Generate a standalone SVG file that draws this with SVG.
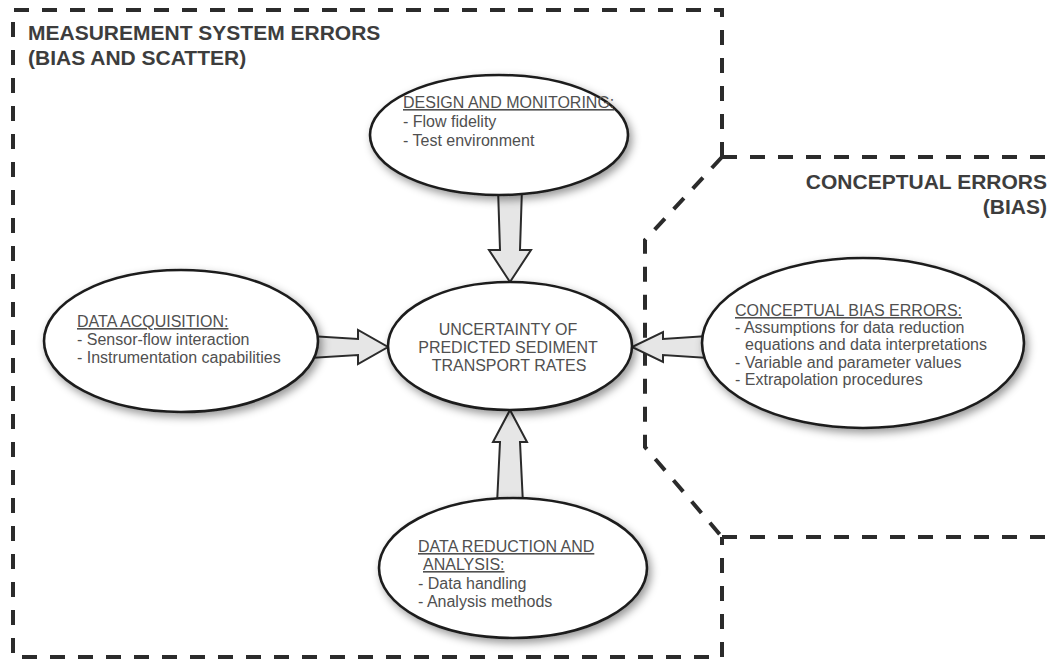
<svg xmlns="http://www.w3.org/2000/svg" width="1055" height="662" viewBox="0 0 1055 662">
<style>
.region{fill:none;stroke:#2b2b2b;stroke-width:4;stroke-dasharray:15 13}
.node{fill:#fff;stroke:#1e1e1e;stroke-width:2.6;filter:url(#shadow)}
.arrow{fill:#e6e6e6;stroke:#2b2b2b;stroke-width:2;stroke-linejoin:miter}
.hdr{font-family:"Liberation Sans",Arial,sans-serif;font-weight:bold;font-size:21px;fill:#3d3d3d}
.txt{font-family:"Liberation Sans",Arial,sans-serif;font-size:16px;fill:#505050}
.u{text-decoration:underline}
</style>
<defs>
<filter id="shadow" x="-20%" y="-20%" width="150%" height="150%">
<feDropShadow dx="3" dy="4" stdDeviation="4" flood-color="#000" flood-opacity="0.4"/>
</filter>
</defs>
<rect width="1055" height="662" fill="#fff"/>

<g id="regions">
<path class="region" d="M722,157 L722,10 L13,10 L13,657 L722,657 L722,537"/>
<path class="region" d="M722,157 L645,240 L645,447 L722,537"/>
<path class="region" d="M722,157 L1055,157"/>
<path class="region" d="M722,537 L1055,537"/>
<text class="hdr" x="28" y="40">MEASUREMENT SYSTEM ERRORS</text>
<text class="hdr" x="28" y="65">(BIAS AND SCATTER)</text>
<text class="hdr" x="1047" y="189" text-anchor="end">CONCEPTUAL ERRORS</text>
<text class="hdr" x="1047" y="214" text-anchor="end">(BIAS)</text>
</g>

<g id="connectors">
<polygon class="arrow" points="498,188 522,188 520,250 531,250 510,282 489,250 500,250"/>
<polygon class="arrow" points="310,336 358,339 358,330 388,347 358,364 358,355 310,358"/>
<polygon class="arrow" points="708,336 663,339 663,332 632,347 663,362 663,355 708,358"/>
<polygon class="arrow" points="497,504 500,442 493,442 510,410 527,442 520,442 523,504"/>
</g>

<g id="design">
<ellipse class="node" cx="499" cy="135" rx="129" ry="60"/>
<text class="txt" x="403" y="108"><tspan class="u">DESIGN AND MONITORING:</tspan></text>
<text class="txt" x="403" y="127">- Flow fidelity</text>
<text class="txt" x="403" y="146">- Test environment</text>
</g>

<g id="acquisition">
<ellipse class="node" cx="181" cy="341" rx="137" ry="71"/>
<text class="txt" x="77" y="327"><tspan class="u">DATA ACQUISITION:</tspan></text>
<text class="txt" x="77" y="345">- Sensor-flow interaction</text>
<text class="txt" x="77" y="363">- Instrumentation capabilities</text>
</g>

<g id="uncertainty">
<ellipse class="node" cx="510" cy="346" rx="122" ry="64"/>
<text class="txt" text-anchor="middle" x="508" y="335">UNCERTAINTY OF</text>
<text class="txt" text-anchor="middle" x="508" y="353">PREDICTED SEDIMENT</text>
<text class="txt" text-anchor="middle" x="509" y="371">TRANSPORT RATES</text>
</g>

<g id="conceptual">
<ellipse class="node" cx="863" cy="343" rx="161" ry="85"/>
<text class="txt" x="735" y="316"><tspan class="u">CONCEPTUAL BIAS ERRORS:</tspan></text>
<text class="txt" x="735" y="333">- Assumptions for data reduction</text>
<text class="txt" x="745" y="350">equations and data interpretations</text>
<text class="txt" x="735" y="368">- Variable and parameter values</text>
<text class="txt" x="735" y="385">- Extrapolation procedures</text>
</g>

<g id="reduction">
<ellipse class="node" cx="513" cy="568" rx="134" ry="70"/>
<text class="txt" x="418" y="552"><tspan class="u">DATA REDUCTION AND</tspan></text>
<text class="txt" x="423" y="570"><tspan class="u">ANALYSIS:</tspan></text>
<text class="txt" x="418" y="589">- Data handling</text>
<text class="txt" x="418" y="607">- Analysis methods</text>
</g>
</svg>
